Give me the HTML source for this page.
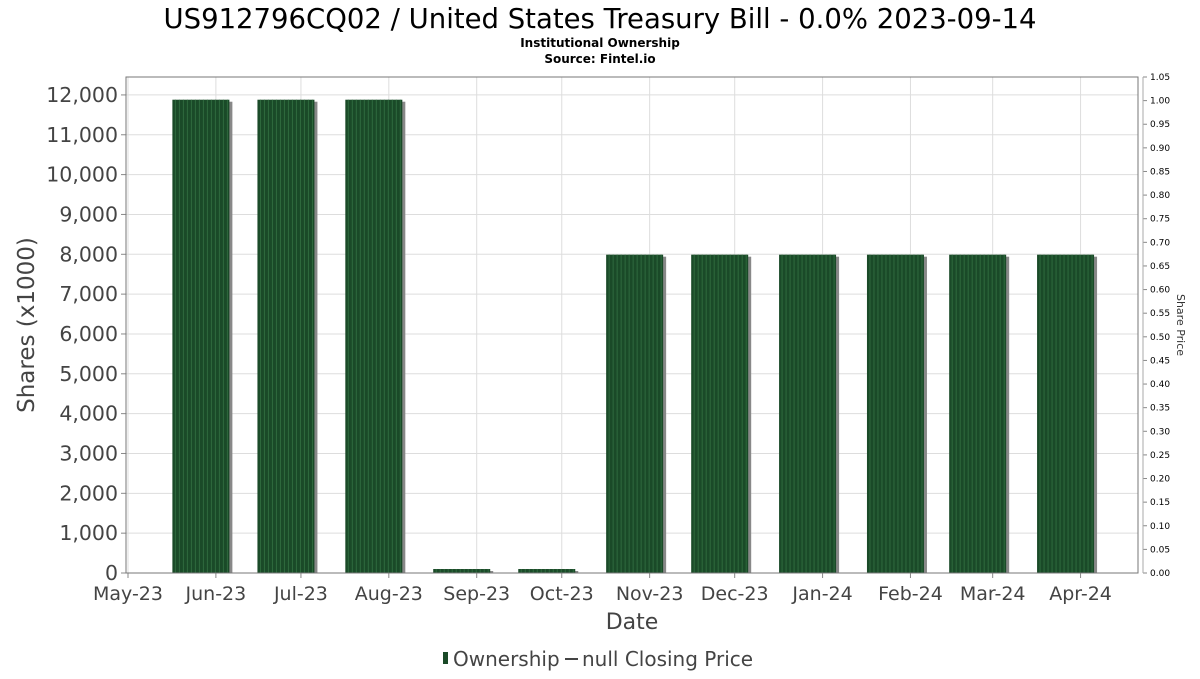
<!DOCTYPE html>
<html><head><meta charset="utf-8"><style>
body{margin:0;background:#fff;width:1200px;height:675px;overflow:hidden;font-family:"DejaVu Sans","Liberation Sans",sans-serif}
</style></head><body>
<svg id="c" width="1200" height="675" xmlns="http://www.w3.org/2000/svg" font-family="DejaVu Sans, Liberation Sans, sans-serif">
<text x="600" y="28" text-anchor="middle" font-size="27.5" fill="#000">US912796CQ02 / United States Treasury Bill - 0.0% 2023-09-14</text>
<text x="600" y="47" text-anchor="middle" font-size="12" font-weight="bold">Institutional Ownership</text>
<text x="600" y="63" text-anchor="middle" font-size="12" font-weight="bold">Source: Fintel.io</text>
<g id="grid"></g><g id="bars"></g><g id="axes"></g>
<text transform="translate(34,325) rotate(-90)" text-anchor="middle" font-size="23" fill="#444">Shares (x1000)</text>
<text transform="translate(1177,325) rotate(90)" text-anchor="middle" font-size="11" fill="#333">Share Price</text>
<text x="632" y="629" text-anchor="middle" font-size="22" fill="#444">Date</text>
<g>
<rect x="443" y="652" width="5" height="12" fill="#1a4a28"/>
<text x="453" y="666" font-size="20" fill="#444">Ownership</text>
<line x1="565" y1="659" x2="578" y2="659" stroke="#444" stroke-width="2"/>
<text x="582" y="666" font-size="20" fill="#444">null Closing Price</text>
</g>
</svg>
<script>
const months=["May-23","Jun-23","Jul-23","Aug-23","Sep-23","Oct-23","Nov-23","Dec-23","Jan-24","Feb-24","Mar-24","Apr-24"];
const barDates=["2023-06-01","2023-07-01","2023-08-01","2023-09-01","2023-10-01","2023-11-01","2023-12-01","2024-01-01","2024-02-01","2024-03-01","2024-04-01"];
const shares=[11880,11880,11880,100,100,7990,7990,7990,7990,7990,7990];
const yTicks=[0,1000,2000,3000,4000,5000,6000,7000,8000,9000,10000,11000,12000];
const pTicks=["0.00","0.05","0.10","0.15","0.20","0.25","0.30","0.35","0.40","0.45","0.50","0.55","0.60","0.65","0.70","0.75","0.80","0.85","0.90","0.95","1.00","1.05"];
const NS="http://www.w3.org/2000/svg";
const L=126,R=1138,T=77,B=573;
const t0=Date.UTC(2023,4,1),pxDay=2.835,x0=128;
const xd=d=>x0+(Date.parse(d)-t0)/864e5*pxDay;
const y=v=>B-v/12450*(B-T);
const yp=v=>B-v/1.05*(B-T);
function mk(tag,at,p){const e=document.createElementNS(NS,tag);for(const k in at)e.setAttribute(k,at[k]);p.appendChild(e);return e;}
const grid=document.getElementById('grid'),bars=document.getElementById('bars'),ax=document.getElementById('axes');
mk('rect',{x:L,y:T,width:R-L,height:B-T,fill:'#fff'},grid);
const mDates=months.map((m,i)=>{const d=new Date(Date.UTC(2023,4+i,1));return d.toISOString().slice(0,10);});
mDates.forEach((d,i)=>{const x=xd(d);
 const g=mk('line',{x1:x,x2:x,y1:T,y2:B,stroke:'#ddd'},grid);
 
 mk('line',{x1:x,x2:x,y1:B,y2:B+5,stroke:'#888'},ax);
 const t=mk('text',{x:x,y:600,'text-anchor':'middle','font-size':19,fill:'#444'},ax);t.textContent=months[i];
 });
yTicks.forEach(v=>{const yy=y(v);
 mk('line',{x1:L,x2:R,y1:yy,y2:yy,stroke:'#ddd'},grid);
 mk('line',{x1:L-5,x2:L,y1:yy,y2:yy,stroke:'#888'},ax);
 const t=mk('text',{x:L-8,y:yy+7,'text-anchor':'end','font-size':20.5,fill:'#444'},ax);t.textContent=v.toLocaleString('en-US');
 });
pTicks.forEach(s=>{const yy=yp(parseFloat(s));
 mk('line',{x1:1143,x2:1147,y1:yy,y2:yy,stroke:'#888'},ax);
 const t=mk('text',{x:1150,y:yy+3,'font-size':9,fill:'#000'},ax);t.textContent=s;
 });
barDates.forEach((d,i)=>{const cx=xd(d)-15,w=57,top=y(shares[i]);
 mk('rect',{x:cx-w/2+3,y:top+2,width:w,height:B-top-2,fill:'#888'},bars);
 const r=mk('rect',{x:cx-w/2,y:top,width:w,height:B-top,fill:'#1a4a28'},bars);
 
 for(let k=3;k<w;k+=4)mk('line',{x1:cx-w/2+k,x2:cx-w/2+k,y1:top,y2:B,stroke:'#2f6a3e','stroke-width':1},bars);});
mk('rect',{x:L,y:T,width:R-L,height:B-T,fill:'none',stroke:'#777'},ax);
mk('line',{x1:1143,x2:1143,y1:T,y2:B,stroke:'#aaa'},ax);
</script>
</body></html>
